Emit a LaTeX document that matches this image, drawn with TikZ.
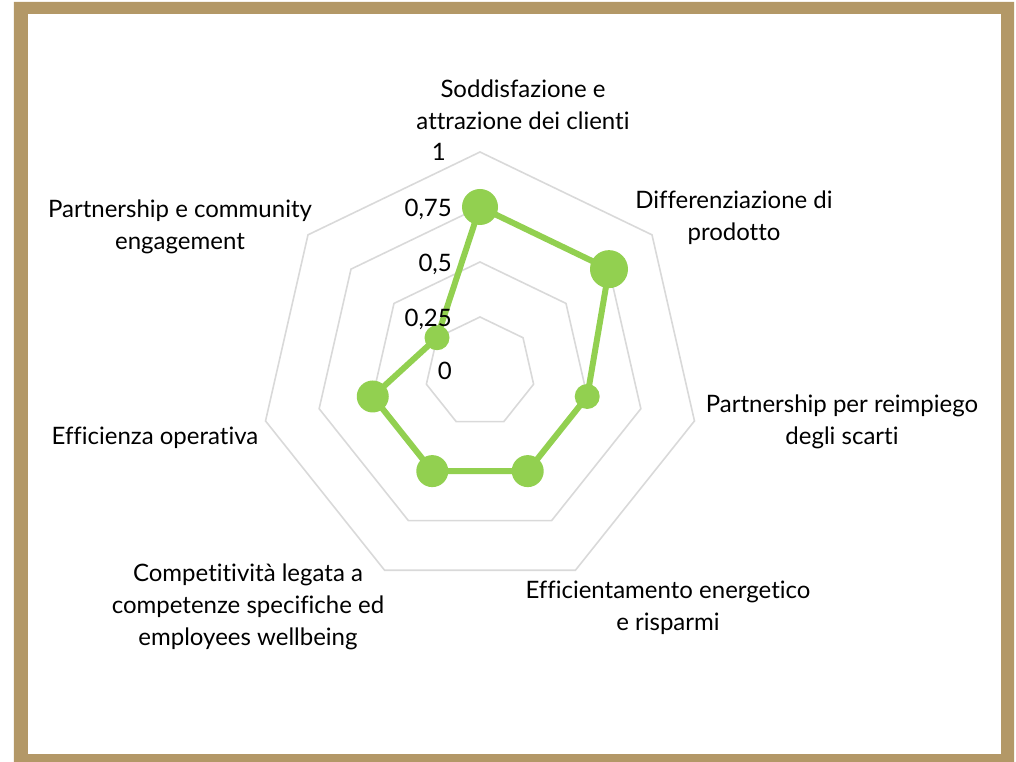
\documentclass[tikz,border=0pt]{standalone}
\usepackage{fontspec}
\setmainfont{Lato}[Ligatures=NoCommon]
\definecolor{serie}{HTML}{92D050}
\definecolor{rete}{HTML}{D9D9D9}
\definecolor{cornice}{HTML}{B39867}

\begin{document}
\begin{tikzpicture}[x=1pt,y=1pt,
  griglia/.style={draw=rete, line width=1.6pt},
  dato/.style={draw=serie, line width=6pt, line join=round},
  etichetta/.style={font=\fontsize{24}{32}\selectfont, align=center, inner sep=0pt},
  valore/.style={font=\fontsize{24}{28}\selectfont, anchor=east, inner sep=0pt}]
\useasboundingbox (-480,-390) rectangle (536,372);
% cornice
\fill[cornice, even odd rule] (-466,-400) rectangle (534,370) (-452,-382) rectangle (521,358);
% griglia
\draw[griglia] (90:55) -- (38.57:55) -- (-12.86:55) -- (-64.29:55) -- (-115.71:55) -- (-167.14:55) -- (141.43:55) -- cycle;
\draw[griglia] (90:110) -- (38.57:110) -- (-12.86:110) -- (-64.29:110) -- (-115.71:110) -- (-167.14:110) -- (141.43:110) -- cycle;
\draw[griglia] (90:165) -- (38.57:165) -- (-12.86:165) -- (-64.29:165) -- (-115.71:165) -- (-167.14:165) -- (141.43:165) -- cycle;
\draw[griglia] (90:220) -- (38.57:220) -- (-12.86:220) -- (-64.29:220) -- (-115.71:220) -- (-167.14:220) -- (141.43:220) -- cycle;
% serie
\coordinate (d1) at (90:165);
\coordinate (d2) at (38.57:165);
\coordinate (d3) at (-12.86:110);
\coordinate (d4) at (-64.29:110);
\coordinate (d5) at (-115.71:110);
\coordinate (d6) at (-167.14:110);
\coordinate (d7) at (141.43:55);
\draw[dato] (d1) -- (d2) -- (d3) -- (d4) -- (d5) -- (d6) -- (d7) -- cycle;
\fill[serie] (d1) circle (18pt);
\fill[serie] (d2) circle (19pt);
\fill[serie] (d3) circle (12.5pt);
\fill[serie] (d4) circle (16pt);
\fill[serie] (d5) circle (16pt);
\fill[serie] (d6) circle (16pt);
\fill[serie] (d7) circle (12.5pt);
% valori
\node[valore] (v0) at (-28,1) {0};
\node[valore] (v25) at (-28,53) {0,25};
\node[valore] (v50) at (-28,108) {0,5};
\node[valore] (v75) at (-28,163) {0,75};
\node[valore] (v100) at (-34,220) {1};
% assi
\node[etichetta] (asse1) at (43,267) {Soddisfazione e\\attrazione dei clienti};
\node[etichetta] (asse2) at (254,154) {Differenziazione di\\prodotto};
\node[etichetta] (asse3) at (362,-50) {Partnership per reimpiego\\degli scarti};
\node[etichetta] (asse4) at (188,-236) {Efficientamento energetico\\e risparmi};
\node[etichetta] (asse5) at (-232,-235) {Competitività legata a\\competenze specifiche ed\\employees wellbeing};
\node[etichetta] (asse6) at (-325,-66) {Efficienza operativa};
\node[etichetta] (asse7) at (-300,145) {Partnership e community\\engagement};
\end{tikzpicture}
\end{document}
